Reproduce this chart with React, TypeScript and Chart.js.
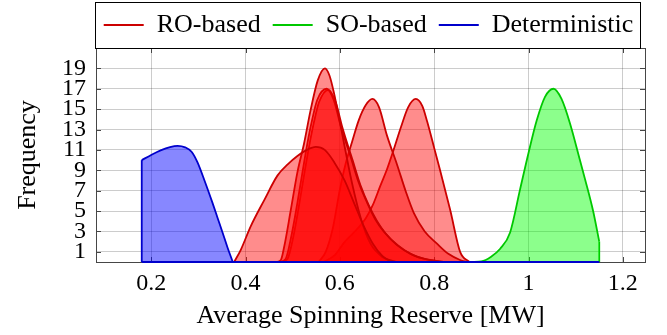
import React, { useEffect, useRef } from "react";
import { Chart, registerables } from "chart.js";

Chart.register(...registerables);

// ---- data ----
const xTickValues = [0.2, 0.4, 0.6, 0.8, 1, 1.2];
const yTickValues = [1, 3, 5, 7, 9, 11, 13, 15, 17, 19];
const xRange = [0.083, 1.247];
const yRange = [0, 21];

const legendLabels = ["RO-based", "SO-based", "Deterministic"];

// RO-based curves
const ro1 = [[0.376, 0], [0.39, 1.2], [0.411, 3.5], [0.44, 6.1], [0.468, 8.5], [0.49, 9.6], [0.51, 10.4], [0.53, 11.0], [0.549, 11.3], [0.568, 11.0], [0.588, 9.8], [0.61, 8.0], [0.63, 5.8], [0.65, 3.6], [0.67, 1.8], [0.69, 0.6], [0.71, 0]];
const ro2 = [[0.465, 0], [0.475, 0.2], [0.482, 1.5], [0.496, 5.1], [0.51, 8.8], [0.524, 11.6], [0.538, 14.9], [0.553, 17.8], [0.5685, 19], [0.578, 18.3], [0.588, 16.5], [0.599, 14.0], [0.609, 11.6], [0.626, 7.7], [0.645, 4.2], [0.665, 1.8], [0.69, 0.5], [0.72, 0]];
const ro3 = [[0.472, 0], [0.485, 0.3], [0.497, 2.5], [0.51, 5.8], [0.52, 8.6], [0.531, 11.6], [0.541, 13.9], [0.552, 15.9], [0.572, 17], [0.587, 15.9], [0.602, 13.3], [0.623, 10.3], [0.64, 7.8], [0.658, 5.8], [0.675, 4.2], [0.693, 3.0], [0.72, 1.7], [0.75, 0.8], [0.78, 0.3], [0.82, 0]];
const ro3b = [[0.476, 0], [0.489, 0.3], [0.501, 2.4], [0.514, 5.7], [0.524, 8.5], [0.535, 11.4], [0.545, 13.7], [0.556, 15.7], [0.576, 16.9], [0.591, 15.7], [0.606, 13.1], [0.627, 10.0], [0.644, 7.5], [0.662, 5.5], [0.679, 4.0], [0.697, 2.8], [0.724, 1.6], [0.754, 0.7], [0.784, 0.25], [0.82, 0]];
const ro4 = [[0.555, 0], [0.57, 1.0], [0.585, 3.3], [0.6, 7.1], [0.612, 9.6], [0.626, 11.8], [0.64, 13.9], [0.655, 15.4], [0.669, 16], [0.683, 15.2], [0.7, 12.4], [0.721, 9.6], [0.74, 6.9], [0.757, 4.8], [0.78, 3.0], [0.806, 1.8], [0.83, 0.8], [0.855, 0.2], [0.87, 0]];
const ro5 = [[0.565, 0], [0.59, 0.7], [0.609, 1.9], [0.63, 2.9], [0.655, 4.3], [0.67, 5.6], [0.686, 7.5], [0.7, 9.1], [0.714, 11.0], [0.73, 13.3], [0.745, 15.2], [0.761, 16], [0.775, 15.3], [0.785, 13.8], [0.8, 11.2], [0.812, 9.1], [0.834, 5.1], [0.855, 1.0], [0.875, 0]];

// SO-based curve
const so1 = [[0.88, 0], [0.9, 0.06], [0.92, 0.5], [0.94, 1.3], [0.961, 2.9], [0.982, 7.1], [1.0, 10.7], [1.0175, 13.9], [1.035, 16.2], [1.053, 17], [1.07, 16.0], [1.088, 13.6], [1.109, 10.0], [1.12, 8.1], [1.137, 5.0], [1.15, 2.0]];

// Deterministic curve
const det1 = [[0.18, 10.0], [0.2, 10.5], [0.22, 10.95], [0.24, 11.28], [0.256, 11.4], [0.272, 11.25], [0.286, 10.8], [0.298, 9.8], [0.313, 8.0], [0.33, 5.8], [0.341, 4.3], [0.352, 2.8], [0.362, 1.4], [0.373, 0]];

// closing edges of the filled shapes (baseline and vertical ends)
const detBaseline = [[0.18, 0], [1.15, 0]];
const detLeftEdge = [[0.18, 0], [0.18, 10.0]];
const soRightEdge = [[1.15, 0], [1.15, 2.0]];

const roCurves = [ro1, ro2, ro3, ro3b, ro4, ro5];

// ---- styles ----
const RED_LINE = "rgb(204,0,0)";
const RED_FILL = "rgba(255,0,0,0.45)";
const GREEN_LINE = "rgb(0,200,0)";
const GREEN_FILL = "rgba(0,255,0,0.45)";
const BLUE_LINE = "rgb(0,0,204)";
const BLUE_FILL = "rgba(0,0,255,0.47)";
const FONT = "'Liberation Serif', 'Times New Roman', serif";
const FRAME = "rgb(70,70,70)";
const LW = 1.8;

const toPts = (arr: number[][]) => arr.map(([x, y]) => ({ x, y }));

function curve(label: string, data: number[][], line: string, fill: string, order: number) {
  return {
    label,
    data: toPts(data),
    borderColor: line,
    backgroundColor: fill,
    borderWidth: LW,
    fill: "origin",
    pointRadius: 0,
    pointHoverRadius: 0,
    cubicInterpolationMode: "monotone" as const,
    clip: 4,
    order,
  };
}

function edge(label: string, data: number[][], line: string, order: number) {
  return {
    label,
    data: toPts(data),
    borderColor: line,
    backgroundColor: line,
    borderWidth: LW,
    fill: false,
    pointRadius: 0,
    pointHoverRadius: 0,
    tension: 0,
    clip: 4,
    order,
  };
}

const framePlugin = {
  id: "frameAndLegendBox",
  afterLayout(chart: any) {
    const lg = chart.legend;
    const ca = chart.chartArea;
    if (lg && ca) {
      lg.left = ca.left - 24;
      lg.right = chart.width - 2;
      lg.width = lg.right - lg.left;
    }
  },
  beforeDatasetsDraw(chart: any) {
    const { ctx, chartArea: ca, scales } = chart;
    ctx.save();
    ctx.strokeStyle = FRAME;
    ctx.lineWidth = 1;
    const tl = 5;
    ctx.beginPath();
    for (const v of yTickValues) {
      const y = Math.round(scales.y.getPixelForValue(v)) + 0.5;
      ctx.moveTo(ca.left, y);
      ctx.lineTo(ca.left + tl, y);
      ctx.moveTo(ca.right, y);
      ctx.lineTo(ca.right - tl, y);
    }
    for (const v of xTickValues) {
      const x = Math.round(scales.x.getPixelForValue(v)) + 0.5;
      ctx.moveTo(x, ca.top);
      ctx.lineTo(x, ca.top + tl);
      ctx.moveTo(x, ca.bottom);
      ctx.lineTo(x, ca.bottom - tl);
    }
    ctx.stroke();
    ctx.strokeRect(Math.round(ca.left) + 0.5, Math.round(ca.top) + 0.5, Math.round(ca.right - ca.left), Math.round(ca.bottom - ca.top));
    ctx.restore();
  },
  afterDraw(chart: any) {
    const lg = chart.legend;
    if (!lg || !lg.legendHitBoxes || !lg.legendHitBoxes.length) return;
    const hb = lg.legendHitBoxes;
    let l = Infinity;
    let r = -Infinity;
    for (const h of hb) {
      l = Math.min(l, h.left);
      r = Math.max(r, h.left + h.width);
    }
    const { ctx, chartArea: ca } = chart;
    ctx.save();
    ctx.strokeStyle = "#000";
    ctx.lineWidth = 1;
    const left = Math.round(l - 9) + 0.5;
    const right = Math.round(r + 7) + 0.5;
    const top = 2.5;
    const bottom = Math.round(ca.top) + 0.5;
    ctx.strokeRect(left, top, right - left, bottom - top);
    ctx.restore();
  },
};

export default function App() {
  const ref = useRef<HTMLCanvasElement | null>(null);

  useEffect(() => {
    if (!ref.current) return;
    const datasets: any[] = [];
    roCurves.forEach((c) => datasets.push(curve(legendLabels[0], c, RED_LINE, RED_FILL, 3)));
    datasets.push(curve(legendLabels[1], so1, GREEN_LINE, GREEN_FILL, 2));
    datasets.push(edge(legendLabels[1], soRightEdge, GREEN_LINE, 2));
    datasets.push(curve(legendLabels[2], det1, BLUE_LINE, BLUE_FILL, 1));
    datasets.push(edge(legendLabels[2], detLeftEdge, BLUE_LINE, 0));
    datasets.push(edge(legendLabels[2], detBaseline, BLUE_LINE, 0));

    const legendColors = [RED_LINE, GREEN_LINE, BLUE_LINE];
    const legendIdx = [0, roCurves.length, roCurves.length + 2];

    const chart = new Chart(ref.current, {
      type: "line",
      data: { datasets },
      plugins: [framePlugin],
      options: {
        animation: false,
        responsive: false,
        events: [],
        layout: { padding: { top: 0, right: 22, bottom: 0, left: 0 } },
        plugins: {
          tooltip: { enabled: false },
          legend: {
            display: true,
            position: "top",
            labels: {
              font: { family: FONT, size: 26 },
              color: "#000",
              boxWidth: 40,
              boxHeight: 2,
              padding: 12,
              generateLabels: () =>
                legendLabels.map((t, i) => ({
                  text: t,
                  fillStyle: legendColors[i],
                  strokeStyle: legendColors[i],
                  lineWidth: 0,
                  hidden: false,
                  datasetIndex: legendIdx[i],
                  fontColor: "#000",
                })),
            },
          },
        },
        scales: {
          x: {
            type: "linear",
            min: xRange[0],
            max: xRange[1],
            afterBuildTicks: (s: any) => {
              s.ticks = xTickValues.map((v) => ({ value: v }));
            },
            afterFit: (s: any) => {
              s.height = 73;
            },
            grid: { color: "rgba(0,0,0,0.2)", lineWidth: 1, drawTicks: false },
            border: { display: false },
            ticks: {
              autoSkip: false,
              maxRotation: 0,
              padding: 7,
              color: "#000",
              font: { family: FONT, size: 24 },
              callback: (v: any) => String(Number(Number(v).toFixed(2))),
            },
            title: {
              display: true,
              text: "Average Spinning Reserve [MW]",
              color: "#000",
              font: { family: FONT, size: 26 },
              padding: { top: 0, bottom: 3 },
            },
          },
          y: {
            type: "linear",
            min: yRange[0],
            max: yRange[1],
            afterBuildTicks: (s: any) => {
              s.ticks = yTickValues.map((v) => ({ value: v }));
            },
            afterFit: (s: any) => {
              s.width = 96;
            },
            grid: { color: "rgba(0,0,0,0.2)", lineWidth: 1, drawTicks: false },
            border: { display: false },
            ticks: {
              autoSkip: false,
              padding: 10,
              color: "#000",
              font: { family: FONT, size: 24 },
            },
            title: {
              display: true,
              text: "Frequency",
              color: "#000",
              font: { family: FONT, size: 26 },
              padding: { top: 13, bottom: 0 },
            },
          },
        },
      },
    });
    return () => chart.destroy();
  }, []);

  return (
    <div style={{ position: "fixed", left: 0, top: 0, width: 667, height: 335, background: "#fff" }}>
      <canvas ref={ref} width={667} height={335} style={{ display: "block" }} />
    </div>
  );
}
